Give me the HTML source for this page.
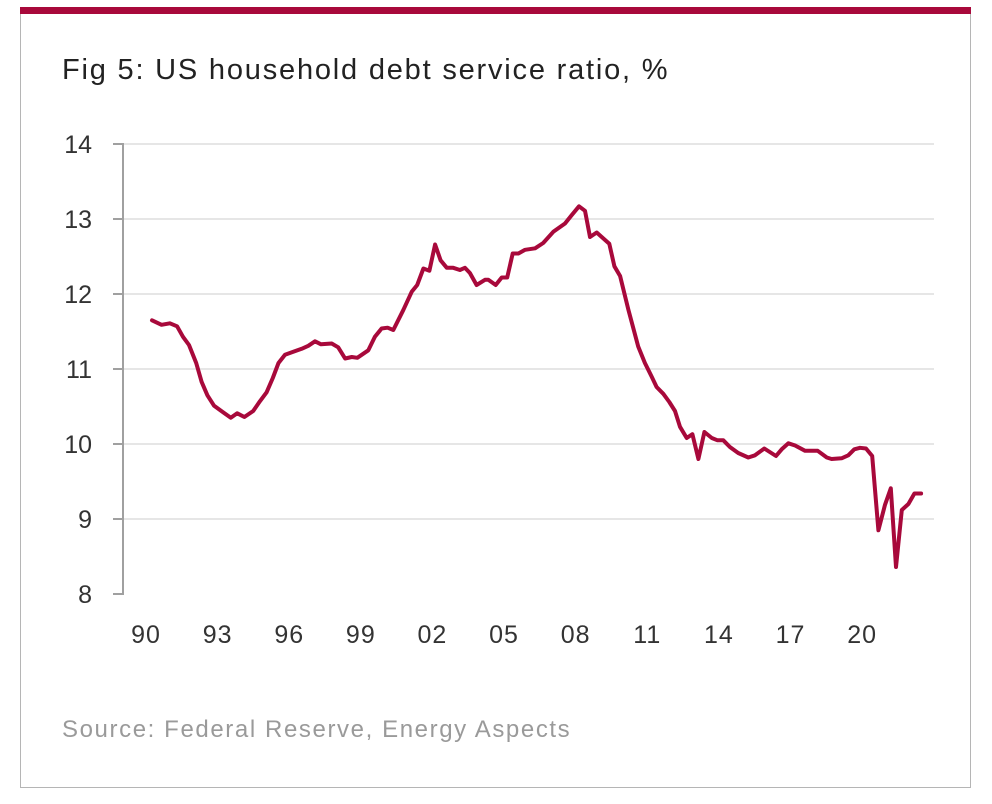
<!DOCTYPE html>
<html><head><meta charset="utf-8"><style>
html,body{margin:0;padding:0;background:#fff;}
body{width:992px;height:804px;position:relative;overflow:hidden;font-family:"Liberation Sans",sans-serif;}
</style></head><body>
<div style="position:absolute;left:20px;top:8px;width:951px;height:780px;border:1px solid #b5b5b5;border-top:none;box-sizing:border-box;"></div>
<div style="position:absolute;left:20px;top:7px;width:951px;height:7px;background:#a8093b;"></div>
<div style="position:absolute;left:62px;top:54px;font-size:29px;letter-spacing:1.8px;color:#222;">Fig 5: US household debt service ratio, %</div>
<div style="position:absolute;left:62px;top:716px;font-size:24px;letter-spacing:1.6px;color:#9a9a9a;">Source: Federal Reserve, Energy Aspects</div>
<svg id="chart" width="992" height="804" style="position:absolute;left:0;top:0;"></svg>
<script>
const yTicks=[8,9,10,11,12,13,14];
const xTickYears=[1990,1993,1996,1999,2002,2005,2008,2011,2014,2017,2020];
const xTickLabels=["90","93","96","99","02","05","08","11","14","17","20"];
const years=[1990.0,1990.4,1990.75,1991.05,1991.3,1991.55,1991.85,1992.08,1992.32,1992.6,1992.99,1993.3,1993.57,1993.87,1994.24,1994.52,1994.8,1995.06,1995.3,1995.57,1995.92,1996.27,1996.55,1996.83,1997.08,1997.53,1997.8,1998.09,1998.37,1998.6,1999.06,1999.34,1999.62,1999.87,2000.11,2000.53,2000.88,2001.11,2001.37,2001.62,2001.86,2002.09,2002.35,2002.62,2002.9,2003.11,2003.32,2003.6,2003.95,2004.09,2004.4,2004.65,2004.88,2005.11,2005.35,2005.63,2006.05,2006.39,2006.81,2007.3,2007.58,2007.89,2008.14,2008.35,2008.63,2008.91,2009.16,2009.37,2009.61,2009.96,2010.37,2010.65,2010.93,2011.14,2011.42,2011.67,2011.91,2012.12,2012.4,2012.64,2012.89,2013.14,2013.45,2013.68,2013.93,2014.21,2014.56,2014.98,2015.26,2015.65,2016.14,2016.38,2016.66,2016.94,2017.36,2017.89,2018.27,2018.47,2018.89,2019.17,2019.42,2019.66,2019.91,2020.17,2020.43,2020.71,2020.95,2021.17,2021.41,2021.69,2021.94,2022.22];
const values=[11.65,11.59,11.61,11.57,11.43,11.32,11.08,10.83,10.65,10.51,10.42,10.35,10.41,10.36,10.44,10.57,10.69,10.88,11.08,11.19,11.23,11.27,11.31,11.37,11.33,11.34,11.29,11.14,11.16,11.15,11.25,11.43,11.54,11.55,11.52,11.79,12.03,12.12,12.34,12.31,12.66,12.45,12.35,12.35,12.32,12.35,12.28,12.12,12.19,12.19,12.12,12.22,12.22,12.54,12.54,12.59,12.61,12.68,12.83,12.94,13.05,13.17,13.11,12.76,12.82,12.74,12.67,12.37,12.24,11.79,11.30,11.08,10.90,10.76,10.67,10.56,10.44,10.23,10.08,10.13,9.80,10.16,10.08,10.05,10.05,9.96,9.88,9.82,9.85,9.94,9.84,9.93,10.01,9.98,9.91,9.91,9.82,9.80,9.81,9.85,9.93,9.95,9.94,9.84,8.85,9.19,9.41,8.36,9.12,9.20,9.34,9.34];
const NS="http://www.w3.org/2000/svg";
const svg=document.getElementById('chart');
const X=yr=>146+(yr-1990)*23.87;
const Xd=yr=>152+(yr-1990)*23.87;
const Y=v=>594-(v-8)*75;
function mk(t,a){const e=document.createElementNS(NS,t);for(const k in a)e.setAttribute(k,a[k]);svg.appendChild(e);return e;}
yTicks.forEach(v=>{
  if(v>8){const g=mk('line',{x1:123,x2:934,y1:Y(v),y2:Y(v),stroke:'#e6e6e6','stroke-width':2});
  
  }
  const tk=mk('line',{x1:113,x2:123,y1:Y(v),y2:Y(v),stroke:'#a0a0a0','stroke-width':2});
  
  
  const t=mk('text',{x:92,y:Y(v)+9,'text-anchor':'end','font-size':25,fill:'#333','font-family':'Liberation Sans, sans-serif'});
  t.textContent=v;
  
  
});
const ax=mk('line',{x1:123,x2:123,y1:143,y2:595,stroke:'#a0a0a0','stroke-width':2});


xTickYears.forEach((yr,i)=>{
  const t=mk('text',{x:X(yr),y:643,'text-anchor':'middle','font-size':25,'letter-spacing':1,fill:'#333','font-family':'Liberation Sans, sans-serif'});
  t.textContent=xTickLabels[i];
  
  
});
const d=years.map((yr,i)=>(i?'L':'M')+Xd(yr).toFixed(1)+','+Y(values[i]).toFixed(1)).join(' ');
const p=mk('path',{d:d,fill:'none',stroke:'#a8093b','stroke-width':4,'stroke-linejoin':'round','stroke-linecap':'round'});


</script>
</body></html>
